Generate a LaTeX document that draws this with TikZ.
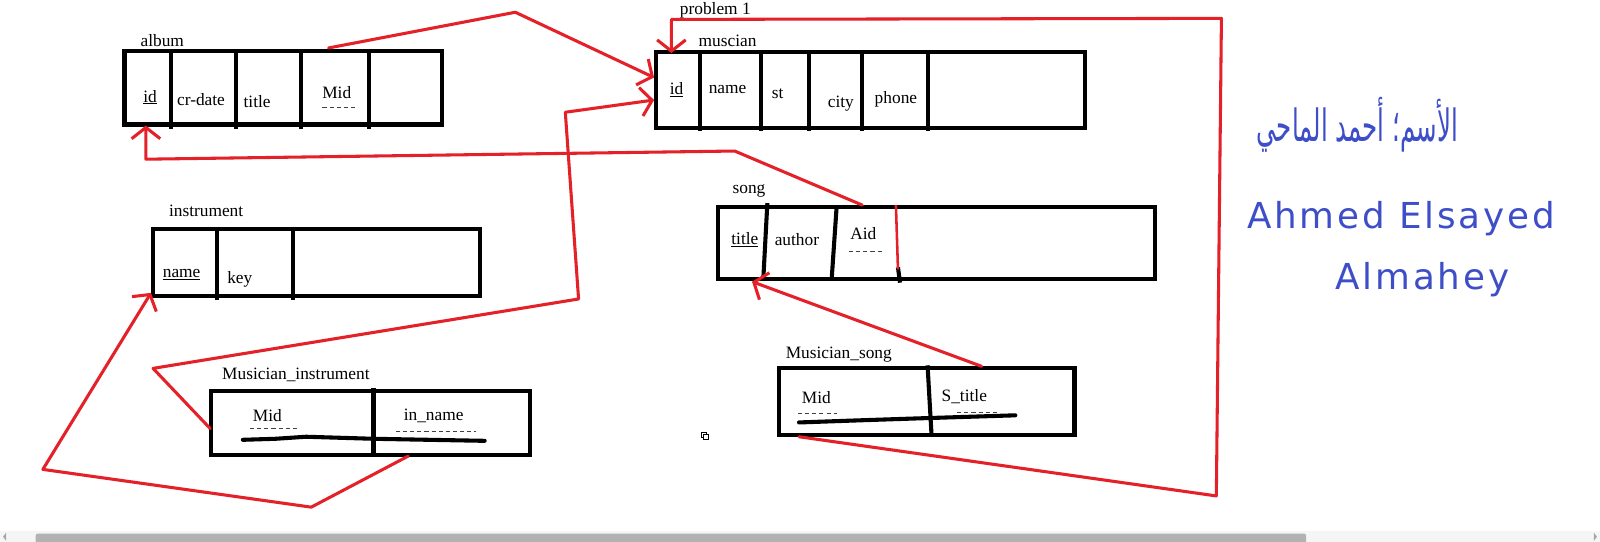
\documentclass[tikz,border=0pt]{standalone}
\usepackage{fontspec}
\setmainfont{Liberation Serif}
\newfontfamily\arabicfont[Script=Arabic]{DejaVu Sans}
\newfontfamily\handfont[LetterSpace=8]{DejaVu Sans}
\TeXXeTstate=1
\usetikzlibrary{arrows.meta}
\definecolor{myred}{RGB}{228,32,40}
\definecolor{myblue}{RGB}{62,78,200}
\tikzset{
  tbl/.style={draw, line width=4pt, inner sep=0pt, outer sep=0pt, anchor=north west},
  divline/.style={line width=4pt},
  ftxt/.style={font=\fontsize{17}{19}\selectfont, inner sep=0pt, anchor=base},
  dashu/.style={line width=1pt, black!75, dash pattern=on 4pt off 3pt},
  scrib/.style={line width=4pt, line cap=round, line join=round},
  rline/.style={draw=myred, line width=3pt, line join=round, line cap=round},
  rarrow/.style={rline, -{Straight Barb[length=11pt,width=28pt]}},
  hand/.style={text=myblue, inner sep=0pt, anchor=base}
}
\begin{document}
\begin{tikzpicture}[x=1pt,y=-1pt]
\useasboundingbox (0,0) rectangle (1568,531);
\fill[white] (0,0) rectangle (1568,531);

% ---------- tables ----------
\node[tbl, minimum width=311pt, minimum height=72pt] (album) at (122,50) {};
\node[tbl, minimum width=420pt, minimum height=74pt] (muscian) at (643,51) {};
\node[tbl, minimum width=428pt, minimum height=70pt] (song) at (704,203) {};
\node[tbl, minimum width=320pt, minimum height=66pt] (instrument) at (150,224) {};
\node[tbl, minimum width=312pt, minimum height=63pt] (musinst) at (207,383) {};
\node[tbl, minimum width=290pt, minimum height=65pt] (mussong) at (763,361) {};

% dividers
\foreach \x in {168,231,295,362} \draw[divline] (\x,49) -- (\x,126);
\foreach \x in {686,746,793,845,909} \draw[divline] (\x,50) -- (\x,128);
\draw[divline] (752,199) -- (748,274);
\draw[divline] (820,201) -- (815,274);
\draw[divline] (880,262) -- (882,277);
\foreach \x in {213,287} \draw[divline] (\x,222) -- (\x,294);
\draw[divline] (366,380) -- (366,448);
\draw[divline] (909,358) -- (913,428);

% ---------- labels ----------
\node[ftxt] (lprob) at (701,14) {problem 1};
\node[ftxt] (lalbum) at (159,46) {album};
\node[ftxt] (lmusc) at (713,46) {muscian};
\node[ftxt] (lsong) at (734,190) {song};
\node[ftxt] (linst) at (202,212) {instrument};
\node[ftxt] (lmi) at (290,372) {Musician\_instrument};
\node[ftxt] (lms) at (822,351) {Musician\_song};

% ---------- cell texts ----------
\node[ftxt] (a-id) at (147,100) {\underline{id}};
\node[ftxt] (a-cr) at (197,103) {cr-date};
\node[ftxt] (a-title) at (252,105) {title};
\node[ftxt] (a-mid) at (330,97) {Mid};
\draw[dashu] (316,105) -- (348,105);

\node[ftxt] (m-id) at (663,93) {\underline{id}};
\node[ftxt] (m-name) at (713,92) {name};
\node[ftxt] (m-st) at (762,97) {st};
\node[ftxt] (m-city) at (824,105) {city};
\node[ftxt] (m-phone) at (878,101) {phone};

\node[ftxt] (s-title) at (730,240) {\underline{title}};
\node[ftxt] (s-author) at (781,241) {author};
\node[ftxt] (s-aid) at (846,235) {Aid};
\draw[dashu] (832,246) -- (864,246);

\node[ftxt] (i-name) at (178,272) {\underline{name}};
\node[ftxt] (i-key) at (235,278) {key};

\node[ftxt] (mi-mid) at (262,413) {Mid};
\draw[dashu] (245,420) -- (291,420);
\node[ftxt] (mi-in) at (425,412) {in\_name};
\draw[dashu] (388,423) -- (466,423);
\draw[scrib] (238,431) -- (270,430) -- (300,428) -- (366,430) -- (420,431) -- (475,432);

\node[ftxt] (ms-mid) at (800,395) {Mid};
\draw[dashu] (782,405) -- (820,405);
\node[ftxt] (ms-st) at (945,393) {S\_title};
\draw[dashu] (938,404) -- (978,404);
\draw[scrib] (783,414) -- (840,412) -- (900,410) -- (995,407);

% ---------- red connectors ----------
\draw[divline, draw=myred, line width=2.5pt] (878,201) -- (880,264);

\coordinate (p1a) at (322,47);
\coordinate (p1b) at (505,12);
\coordinate (p1c) at (641,76);
\draw[rarrow] (p1a) -- (p1b) -- (p1c);

\coordinate (p2a) at (206,420);
\coordinate (p2b) at (150,361);
\coordinate (p2c) at (567,293);
\coordinate (p2d) at (554,110);
\coordinate (p2e) at (641,98);
\draw[rarrow] (p2a) -- (p2b) -- (p2c) -- (p2d) -- (p2e);

\coordinate (p3a) at (400,447);
\coordinate (p3b) at (305,497);
\coordinate (p3c) at (42,460);
\coordinate (p3d) at (148,287);
\draw[rarrow] (p3a) -- (p3b) -- (p3c) -- (p3d);

\coordinate (p4a) at (845,201);
\coordinate (p4b) at (720,148);
\coordinate (p4c) at (143,156);
\coordinate (p4d) at (143,123);
\draw[rarrow] (p4a) -- (p4b) -- (p4c) -- (p4d);

\coordinate (p5a) at (962,359);
\coordinate (p5b) at (737,276);
\draw[rarrow] (p5a) -- (p5b);

\coordinate (p6a) at (783,428);
\coordinate (p6b) at (1192,486);
\coordinate (p6c) at (1197,18);
\coordinate (p6d) at (658,19);
\coordinate (p6e) at (658,52);
\draw[rarrow] (p6a) -- (p6b) -- (p6c) -- (p6d) -- (p6e);

% ---------- handwriting ----------
\node[hand, font=\arabicfont\fontsize{30}{34}\selectfont, transform shape, xscale=0.8, yscale=1.45] (arname) at (1330,139) {\beginR الأسم؛ أحمد الماحي\endR};
\node[hand, font=\handfont\fontsize{35}{38}\selectfont] (ename1) at (1373,224) {Ahmed Elsayed};
\node[hand, font=\handfont\fontsize{35}{38}\selectfont] (ename2) at (1394,284) {Almahey};

% ---------- small icon ----------
\draw[line width=0.8pt] (687,424) rectangle (692,429);
\draw[line width=0.8pt, fill=white] (689,426) rectangle (694,431);

% ---------- scrollbar ----------
\fill[gray!8] (0,520) rectangle (1568,531);
\fill[gray!60, rounded corners=2pt] (35,523) rectangle (1280,533);
\fill[gray!70] (3,526) -- (6,522) -- (6,530) -- cycle;
\fill[gray!70] (1565,526) -- (1562,522) -- (1562,530) -- cycle;
\end{tikzpicture}
\end{document}
